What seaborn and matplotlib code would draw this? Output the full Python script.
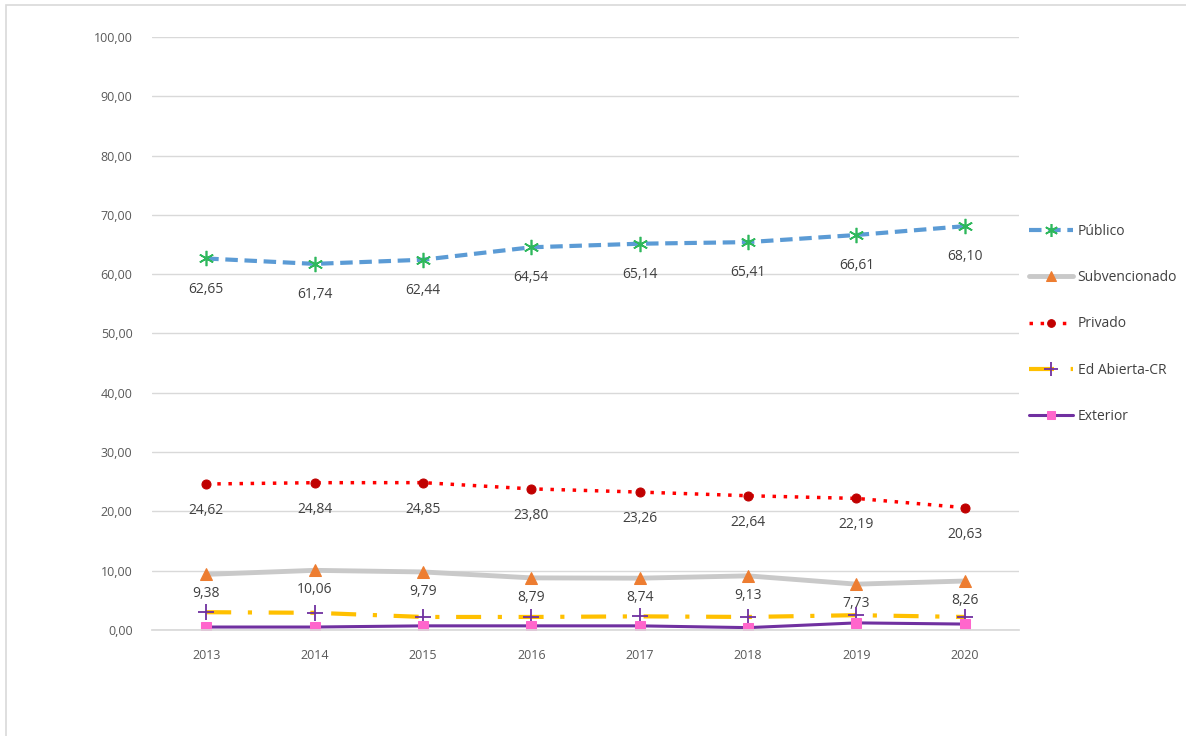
import numpy as np
import pandas as pd
import seaborn as sns
import matplotlib.pyplot as plt
from matplotlib.patches import Rectangle

years = ['2013', '2014', '2015', '2016', '2017', '2018', '2019', '2020']
publico = [62.65, 61.74, 62.44, 64.54, 65.14, 65.41, 66.61, 68.10]
subvencionado = [9.38, 10.06, 9.79, 8.79, 8.74, 9.13, 7.73, 8.26]
privado = [24.62, 24.84, 24.85, 23.80, 23.26, 22.64, 22.19, 20.63]
ed_abierta = [3.0, 2.9, 2.2, 2.2, 2.3, 2.2, 2.5, 2.2]
exterior = [0.5, 0.5, 0.7, 0.7, 0.7, 0.4, 1.2, 1.0]

sns.set_theme(style='white')
plt.rcParams['font.family'] = ['Open Sans', 'DejaVu Sans']

fig = plt.figure(figsize=(11.86, 7.36), dpi=100)
ax = fig.add_axes([152 / 1186, 1 - 630 / 736, (1019 - 152) / 1186, (630 - 37) / 736])

# outer frame like the original screenshot
fig.patches.append(Rectangle((6 / 1186, -0.01), 1.2, 1 - 5 / 736 + 0.01, transform=fig.transFigure,
                             fill=False, edgecolor='#d9d9d9', linewidth=1.2))

x = np.arange(len(years))
txt = '#595959'

# (name, values, style, label offset in points or None)
series = [
    ('Público', publico, dict(color='#5b9bd5', linestyle=(0, (3, 1.6)), linewidth=3,
                              marker=(6, 2, 0), markersize=11, markeredgecolor='#2eb85c',
                              markerfacecolor='#2eb85c', markeredgewidth=1.2), -22),
    ('Subvencionado', subvencionado, dict(color='#c9c9c9', linestyle='-', linewidth=3.5,
                                          marker='^', markersize=8, markeredgecolor='#ed7d31',
                                          markerfacecolor='#ed7d31'), -14),
    ('Privado', privado, dict(color='#ff0000', linestyle=(0, (1, 2.2)), linewidth=2.5,
                              marker='o', markersize=6.5, markeredgecolor='#c00000',
                              markerfacecolor='#c00000'), -19),
    ('Ed Abierta-CR', ed_abierta, dict(color='#ffc000', linestyle=(0, (6, 4, 1, 4)), linewidth=3,
                                       marker='+', markersize=12, markeredgecolor='#7030a0',
                                       markeredgewidth=1.3), None),
    ('Exterior', exterior, dict(color='#7030a0', linestyle='-', linewidth=2.2,
                                marker='s', markersize=7.5, markeredgecolor='#ff66cc',
                                markerfacecolor='#ff66cc'), None),
]

for name, vals, style, off in series:
    sns.lineplot(x=x, y=vals, ax=ax, label=name, **style)
    if off is not None:
        for xi, v in zip(x, vals):
            ax.annotate(f'{v:.2f}'.replace('.', ','), (xi, v), xytext=(0, off),
                        textcoords='offset points', ha='center', va='center',
                        fontsize=10, color='#404040')

ax.set_xlim(-0.5, len(years) - 0.5)
ax.set_ylim(0, 100)
ax.set_yticks(np.arange(0, 101, 10))
ax.set_yticklabels([f'{t:.2f}'.replace('.', ',') for t in np.arange(0, 101, 10)])
ax.set_xticks(x)
ax.set_xticklabels(years)
ax.tick_params(axis='both', labelsize=9, colors=txt, length=0, pad=14)
ax.grid(axis='y', color='#d9d9d9', linewidth=1)
for s in ['top', 'right', 'left']:
    ax.spines[s].set_visible(False)
ax.spines['bottom'].set_color('#d9d9d9')

handles, labels = ax.get_legend_handles_labels()
ax.legend_.remove()
fig.legend(handles, labels, loc='upper left', bbox_to_anchor=(1022 / 1186, 1 - 217 / 736),
           frameon=False, fontsize=10, labelcolor='#404040', labelspacing=2.25,
           handlelength=3.2, handletextpad=0.3, borderpad=0, markerscale=0.85)

fig.savefig('out.png', dpi=100)
